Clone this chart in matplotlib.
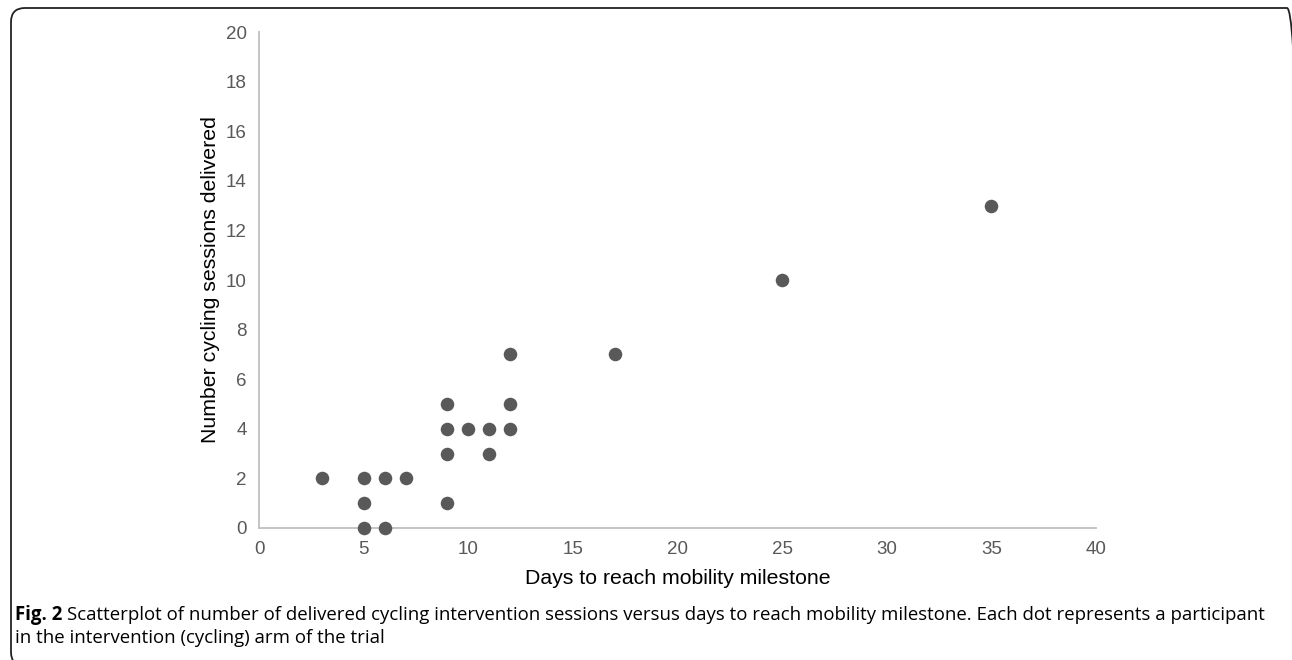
import matplotlib.pyplot as plt
from matplotlib.patches import FancyBboxPatch

days = [3, 5, 5, 5, 6, 6, 7, 9, 9, 9, 9, 10, 11, 11, 12, 12, 12, 17, 25, 35]
sessions = [2, 2, 1, 0, 2, 0, 2, 5, 4, 3, 1, 4, 4, 3, 7, 5, 4, 7, 10, 13]
x_ticks = [0, 5, 10, 15, 20, 25, 30, 35, 40]
y_ticks = [0, 2, 4, 6, 8, 10, 12, 14, 16, 18, 20]

plt.rcParams['font.family'] = ['Liberation Sans', 'DejaVu Sans']

fig = plt.figure(figsize=(12.92, 6.6), dpi=100)
ax = fig.add_axes([0.2005, 0.2, 0.6478, 0.7515])

ax.scatter(days, sessions, s=95, color='#595959', zorder=3, clip_on=False, linewidths=0)
ax.set_xlim(0, 40)
ax.set_ylim(0, 20)
ax.set_xticks(x_ticks)
ax.set_yticks(y_ticks)
ax.tick_params(length=0, labelsize=13.5, labelcolor='#595959', pad=9)
for side in ['top', 'right']:
    ax.spines[side].set_visible(False)
for side in ['left', 'bottom']:
    ax.spines[side].set_color('#bfbfbf')
    ax.spines[side].set_linewidth(1.3)
ax.set_xlabel('Days to reach mobility milestone', fontsize=15.3, labelpad=8)
ax.set_ylabel('Number cycling sessions delivered', fontsize=15.3, labelpad=4)

# rounded frame round the figure (right and bottom edges run off the page)
box = FancyBboxPatch((11, -6), 1290, 6 + 660 - 8, boxstyle='round,pad=0,rounding_size=14',
                     transform=None, fill=False, edgecolor='#222222', linewidth=1.3)
fig.add_artist(box)

cap_font = 'Open Sans'
cap_size = 13.45
y1 = 1 - 615 / 660
y2 = 1 - 638 / 660
t = fig.text(15 / 1292, y1, 'Fig. 2', fontsize=cap_size, fontweight='bold', va='center', ha='left', family=cap_font)
fig.canvas.draw()
bb = t.get_window_extent()
fig.text((bb.x1 + 5) / 1292, y1,
         'Scatterplot of number of delivered cycling intervention sessions versus days to reach mobility milestone. Each dot represents a participant',
         fontsize=cap_size, va='center', ha='left', family=cap_font)
fig.text(15 / 1292, y2, 'in the intervention (cycling) arm of the trial',
         fontsize=cap_size, va='center', ha='left', family=cap_font)

fig.savefig('out.png', dpi=100)
